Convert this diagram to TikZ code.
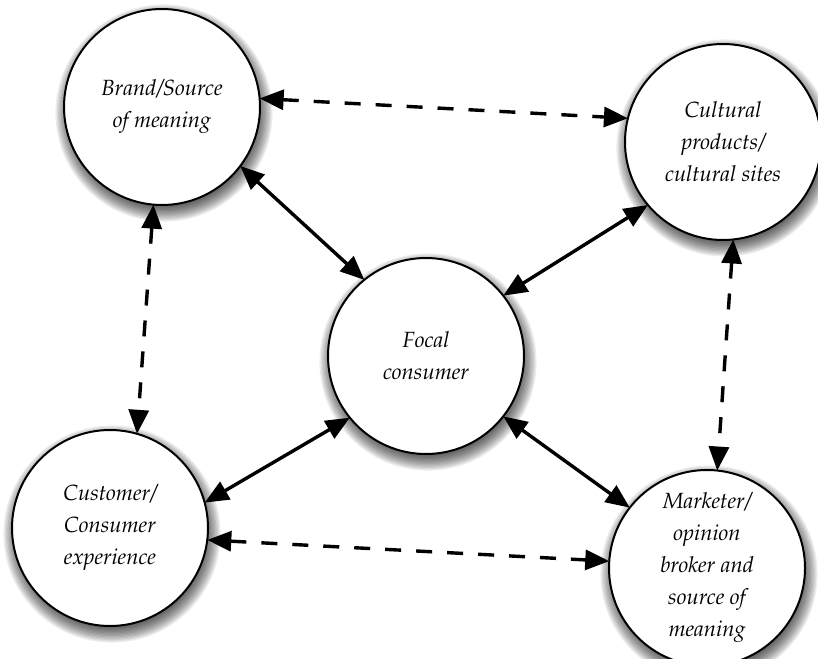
\documentclass[tikz,border=0pt]{standalone}
\usepackage[T1]{fontenc}
\usepackage{mathpazo}
\usetikzlibrary{arrows.meta,backgrounds}

\tikzset{
  bubble/.style={circle, draw=black, line width=2pt, fill=white,
    minimum size=196pt, inner sep=0pt, outer sep=0pt, align=center,
    font=\fontsize{22}{32}\selectfont\itshape},
  link/.style={line width=3.4pt,
    {Triangle[length=24pt,width=20pt]}-{Triangle[length=24pt,width=20pt]}},
  weaklink/.style={link, dash pattern=on 16pt off 15pt},
  haze/.style={black, opacity=0.07}
}

% soft drop shadow under a round node
\newcommand\bubbleshadow[1]{%
  \foreach \k in {1,...,12}
    \fill[haze] ([xshift=2pt,yshift=-6pt]#1.center) circle[radius=93pt+\k*1.3pt];}

\begin{document}
\begin{tikzpicture}[x=1pt,y=-1pt]
\useasboundingbox (0,0) rectangle (818,658);

\node[bubble] (brand)    at (162,107) {Brand/Source\\of meaning};
\node[bubble] (cultural) at (723,142) {Cultural\\products/\\cultural sites};
\node[bubble] (focal)    at (426,356) {Focal\\consumer};
\node[bubble] (customer) at (110,528) {Customer/\\Consumer\\experience};
\node[bubble] (marketer) at (707,568) {Marketer/\\opinion\\broker and\\source of\\meaning};

\begin{scope}[on background layer]
  \bubbleshadow{brand}
  \bubbleshadow{cultural}
  \bubbleshadow{focal}
  \bubbleshadow{customer}
  \bubbleshadow{marketer}
\end{scope}

% direct links to the focal consumer
\draw[link] (brand.-37)     -- (focal.129);
\draw[link] (cultural.220)  -- (focal.38);
\draw[link] (customer.15)   -- (focal.-141);
\draw[link] (marketer.142)  -- (focal.-38);

% indirect links around the outside
\draw[weaklink] (brand.5)      -- (cultural.166);
\draw[weaklink] (customer.-7)  -- (marketer.176);
\draw[weaklink] (brand.-95)    -- (customer.74);
\draw[weaklink] (cultural.-84) -- (marketer.84);
\end{tikzpicture}
\end{document}
